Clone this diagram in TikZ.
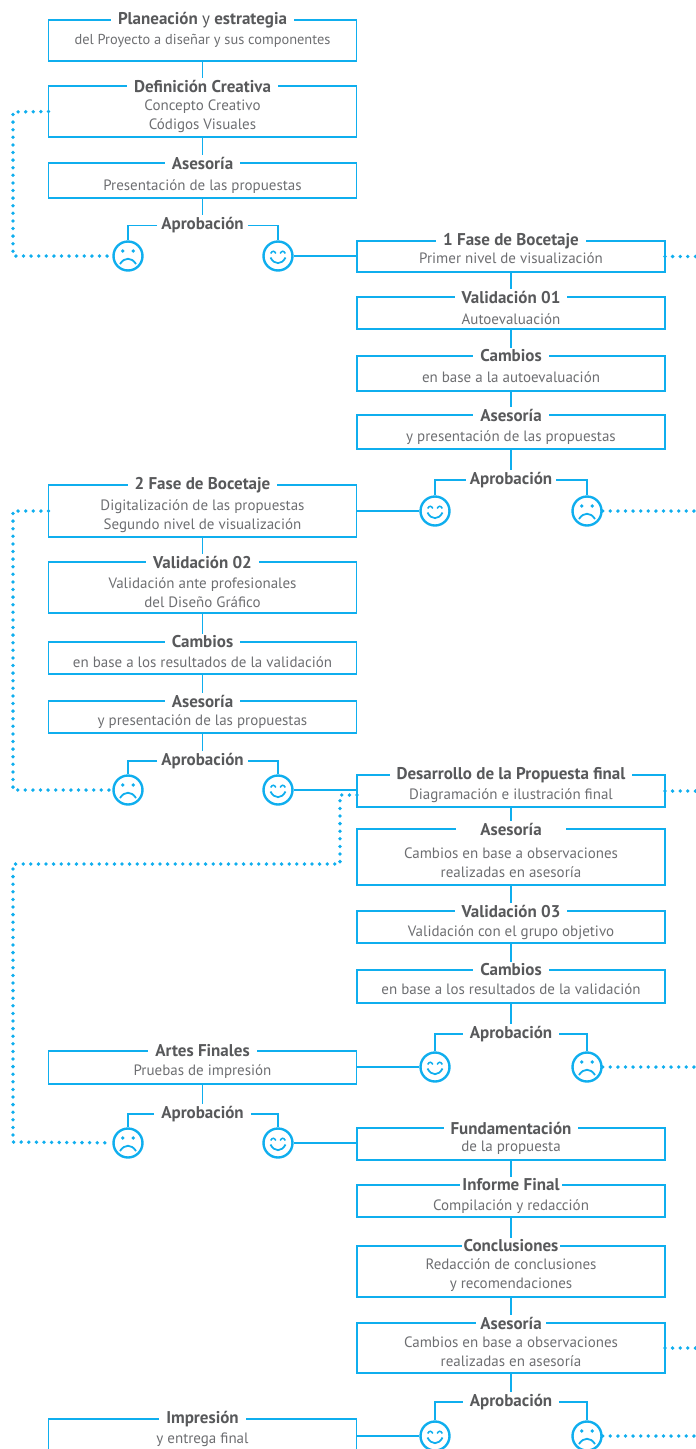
\documentclass[tikz,border=0pt]{standalone}
\usepackage{fontspec}
\setmainfont{PT Sans}
\usepackage{tikz}
\definecolor{linkblue}{HTML}{0FAEEE}
\definecolor{headgray}{HTML}{58595B}
\definecolor{bodygray}{HTML}{6D6E71}
\tikzstyle{box3}=[draw=linkblue,line width=1.8pt,outer sep=0pt,inner sep=0pt,minimum width=308pt]

\begin{document}
\begin{tikzpicture}[x=1pt,y=1pt]

\tikzstyle{head}=[fill=white,inner xsep=7pt,inner ysep=2pt,text=headgray,font=\fontsize{17}{19}\selectfont\bfseries]
\tikzstyle{body}=[align=center,inner sep=0pt,text=bodygray,font=\fontsize{15}{19}\selectfont]
\tikzstyle{link}=[draw=linkblue,line width=1.8pt]
\tikzstyle{dots}=[draw=linkblue,line width=3.8pt,line cap=round,dash pattern=on 0pt off 7.6pt]
\tikzstyle{face}=[circle,draw=linkblue,line width=2.4pt,minimum size=29pt,inner sep=0pt,outer sep=1.2pt]
\tikzstyle{sad}=[face,path picture={
  \begin{scope}[shift={(path picture bounding box.center)}]
  \fill [linkblue] (-5.3,5) circle (1.9) (5.3,5) circle (1.9);
  \draw [linkblue,line width=1.8pt] (-8,-8) .. controls (-3.5,-1) and (3.5,-1) .. (8,-8);
  \end{scope}}]
\tikzstyle{happy}=[face,path picture={
  \begin{scope}[shift={(path picture bounding box.center)}]
  \draw [linkblue,line width=1.5pt] (-7.3,2.5) .. controls (-6,5.5) and (-3.5,5.5) .. (-2.2,2.5);
  \draw [linkblue,line width=1.5pt] (2.2,2.5) .. controls (3.5,5.5) and (6,5.5) .. (7.3,2.5);
  \draw [linkblue,line width=1.8pt] (-7.5,-1.5) .. controls (-4,-9) and (4,-9) .. (7.5,-1.5);
  \end{scope}}]

\useasboundingbox (0,0) rectangle (696,-1449);

\coordinate (Rim) at (699,0);
\coordinate (DotA) at (13,-112);
\coordinate (DotB) at (13,-511);
\coordinate (DotC) at (340,-864);
\coordinate (DotD) at (13,-1142);

% first column
\node (A) [box3, minimum height=41pt] at (202.5,-40.5) {};
\node (At) [head] at (A.north) {Planeación {\mdseries y} estrategia};
\node (As) [body, font=\fontsize{14.4}{19}\selectfont, below of = At, node distance=20.5pt] {del Proyecto a diseñar y sus componentes};

\node (B) [box3, minimum height=51pt, below of = A, node distance=71pt] {};
\node (Bt) [head] at (B.north) {Definición Creativa};
\node (Bs) [body, below of = Bt, node distance=30.5pt] {Concepto Creativo\\Códigos Visuales};

\node (C) [box3, minimum height=35pt, below of = B, node distance=69pt] {};
\node (Ct) [head] at (C.north) {Asesoría};
\node (Cs) [body, below of = Ct, node distance=24pt] {Presentación de las propuestas};

\node (Ap1) [head, inner xsep=4pt, below of = C, node distance=45pt] {Aprobación};
\node (Sad1) [sad, below of = Ap1, node distance=30.5pt, xshift=-74.5pt] {};
\node (Hap1) [happy, below of = Ap1, node distance=30.5pt, xshift=75.5pt] {};

\draw [link] (A) -- (Bt);
\draw [link] (B) -- (Ct);
\draw [link] (C) -- (Ap1);
\draw [link] (Ap1.west) -| (Sad1);
\draw [link] (Ap1.east) -| (Hap1);

% first sketch phase
\node (D) [box3, minimum height=31pt] at (511,-256.5) {};
\node (Dt) [head] at (D.north) {1 Fase de Bocetaje};
\node (Ds) [body, below of = Dt, node distance=17pt] {Primer nivel de visualización};

\node (E) [box3, minimum height=32pt, below of = D, node distance=56.5pt] {};
\node (Et) [head] at (E.north) {Validación 01};
\node (Es) [body, below of = Et, node distance=22pt] {Autoevaluación};

\node (F) [box3, minimum height=35pt, below of = E, node distance=60.5pt] {};
\node (Ft) [head] at (F.north) {Cambios};
\node (Fs) [body, below of = Ft, node distance=21pt] {en base a la autoevaluación};

\node (G) [box3, minimum height=34pt, below of = F, node distance=58.5pt] {};
\node (Gt) [head] at (G.north) {Asesoría};
\node (Gs) [body, below of = Gt, node distance=23pt] {y presentación de las propuestas};

\node (Ap2) [head, inner xsep=4pt, below of = G, node distance=48pt] {Aprobación};
\node (Hap2) [happy, below of = Ap2, node distance=31pt, xshift=-76pt] {};
\node (Sad2) [sad, below of = Ap2, node distance=31pt, xshift=76pt] {};

\draw [link] (Hap1) -- (Hap1 -| D.west);
\draw [link] (D) -- (Et);
\draw [link] (E) -- (Ft);
\draw [link] (F) -- (Gt);
\draw [link] (G) -- (Ap2);
\draw [link] (Ap2.west) -| (Hap2);
\draw [link] (Ap2.east) -| (Sad2);

% second sketch phase
\node (H) [box3, minimum height=52pt] at (202.5,-511) {};
\node (Ht) [head] at (H.north) {2 Fase de Bocetaje};
\node (Hs) [body, below of = Ht, node distance=31pt] {Digitalización de las propuestas\\Segundo nivel de visualización};

\node (I) [box3, minimum height=51pt, below of = H, node distance=76.5pt] {};
\node (It) [head] at (I.north) {Validación 02};
\node (Is) [body, below of = It, node distance=31pt] {Validación ante profesionales\\del Diseño Gráfico};

\node (J) [box3, minimum height=32pt, below of = I, node distance=70.5pt] {};
\node (Jt) [head] at (J.north) {Cambios};
\node (Js) [body, below of = Jt, node distance=20pt] {en base a los resultados de la validación};

\node (K) [box3, minimum height=32pt, below of = J, node distance=59pt] {};
\node (Kt) [head] at (K.north) {Asesoría};
\node (Ks) [body, below of = Kt, node distance=21pt] {y presentación de las propuestas};

\node (Ap3) [head, inner xsep=4pt, below of = K, node distance=44pt] {Aprobación};
\node (Sad3) [sad, below of = Ap3, node distance=29pt, xshift=-74.5pt] {};
\node (Hap3) [happy, below of = Ap3, node distance=29pt, xshift=75.5pt] {};

\draw [link] (Hap2) -- (Hap2 -| H.east);
\draw [link] (H) -- (It);
\draw [link] (I) -- (Jt);
\draw [link] (J) -- (Kt);
\draw [link] (K) -- (Ap3);
\draw [link] (Ap3.west) -| (Sad3);
\draw [link] (Ap3.east) -| (Hap3);

% final proposal
\node (L) [box3, minimum height=32pt] at (511,-791) {};
\node (Lt) [head] at (L.north) {Desarrollo de la Propuesta final};
\node (Ls) [body, below of = Lt, node distance=21pt] {Diagramación e ilustración final};

\node (M) [box3, minimum height=56pt, below of = L, node distance=66pt] {};
\node (Mt) [head, inner xsep=24pt] at (M.north) {Asesoría};
\node (Ms) [body, below of = Mt, node distance=34pt] {Cambios en base a observaciones\\realizadas en asesoría};

\node (N) [box3, minimum height=32pt, below of = M, node distance=70pt] {};
\node (Nt) [head] at (N.north) {Validación 03};
\node (Ns) [body, below of = Nt, node distance=22pt] {Validación con el grupo objetivo};

\node (O) [box3, minimum height=33pt, below of = N, node distance=59.5pt] {};
\node (Ot) [head] at (O.north) {Cambios};
\node (Os) [body, below of = Ot, node distance=19.5pt] {en base a los resultados de la validación};

\node (Ap4) [head, below of = O, node distance=47.5pt] {Aprobación};
\node (Hap4) [happy, below of = Ap4, node distance=33pt, xshift=-76pt] {};
\node (Sad4) [sad, below of = Ap4, node distance=33pt, xshift=76pt] {};

\draw [link] (Hap3) -- (Hap3 -| L.west);
\draw [link] (L) -- (Mt);
\draw [link] (M) -- (Nt);
\draw [link] (N) -- (Ot);
\draw [link] (O) -- (Ap4);
\draw [link] (Ap4.west) -| (Hap4);
\draw [link] (Ap4.east) -| (Sad4);

% final art
\node (P) [box3, minimum height=33pt] at (202.5,-1067.5) {};
\node (Pt) [head] at (P.north) {Artes Finales};
\node (Ps) [body, below of = Pt, node distance=21pt] {Pruebas de impresión};

\node (Ap5) [head, below of = P, node distance=46.5pt] {Aprobación};
\node (Sad5) [sad, below of = Ap5, node distance=29pt, xshift=-74.5pt] {};
\node (Hap5) [happy, below of = Ap5, node distance=29pt, xshift=75.5pt] {};

\draw [link] (Hap4) -- (Hap4 -| P.east);
\draw [link] (P) -- (Ap5);
\draw [link] (Ap5.west) -| (Sad5);
\draw [link] (Ap5.east) -| (Hap5);

% report
\node (Q) [box3, minimum height=32pt] at (511,-1144) {};
\node (Qt) [head] at (Q.north) {Fundamentación};
\node (Qs) [body, below of = Qt, node distance=20pt] {de la propuesta};

\node (R) [box3, minimum height=32pt, below of = Q, node distance=57pt] {};
\node (Rt) [head, inner xsep=2pt] at (R.north) {Informe Final};
\node (Rs) [body, below of = Rt, node distance=22pt] {Compilación y redacción};

\node (S) [box3, minimum height=51pt, below of = R, node distance=70.5pt] {};
\node (St) [head, inner xsep=2pt] at (S.north) {Conclusiones};
\node (Ss) [body, below of = St, node distance=29pt] {Redacción de conclusiones\\y recomendaciones};

\node (T) [box3, minimum height=50pt, below of = S, node distance=76.5pt] {};
\node (Tt) [head, inner xsep=4pt] at (T.north) {Asesoría};
\node (Ts) [body, below of = Tt, node distance=29pt] {Cambios en base a observaciones\\realizadas en asesoría};

\node (Ap6) [head, below of = T, node distance=54pt] {Aprobación};
\node (Hap6) [happy, below of = Ap6, node distance=34pt, xshift=-76pt] {};
\node (Sad6) [sad, below of = Ap6, node distance=34pt, xshift=76pt] {};

\draw [link] (Hap5) -- (Hap5 -| Q.west);
\draw [link] (Q) -- (Rt);
\draw [link] (R) -- (St);
\draw [link] (S) -- (Tt);
\draw [link] (T) -- (Ap6);
\draw [link] (Ap6.west) -| (Hap6);
\draw [link] (Ap6.east) -| (Sad6);

% last box runs off the page
\node (U) [box3, minimum height=51pt] at (202.5,-1444.5) {};
\node (Ut) [head] at (U.north) {Impresión};
\node (Us) [body, below of = Ut, node distance=21pt] {y entrega final};

\draw [link] (Hap6) -- (Hap6 -| U.east);

% dotted returns
\draw [dots] (B.west) -- (DotA) |- (Sad1);
\draw [dots] (H.west) -- (DotB) |- (Sad3);
\draw [dots] ([yshift=-4pt]L.west) -| (DotC) -| (DotD) -- (Sad5);
\draw [dots] (D.east) -- (D.east -| Rim);
\draw [dots] (Sad2) -- (Sad2 -| Rim);
\draw [dots] (L.east) -- (L.east -| Rim);
\draw [dots] (Sad4) -- (Sad4 -| Rim);
\draw [dots] (T.east) -- (T.east -| Rim);
\draw [dots] (Sad6) -- (Sad6 -| Rim);

\end{tikzpicture}
\end{document}
